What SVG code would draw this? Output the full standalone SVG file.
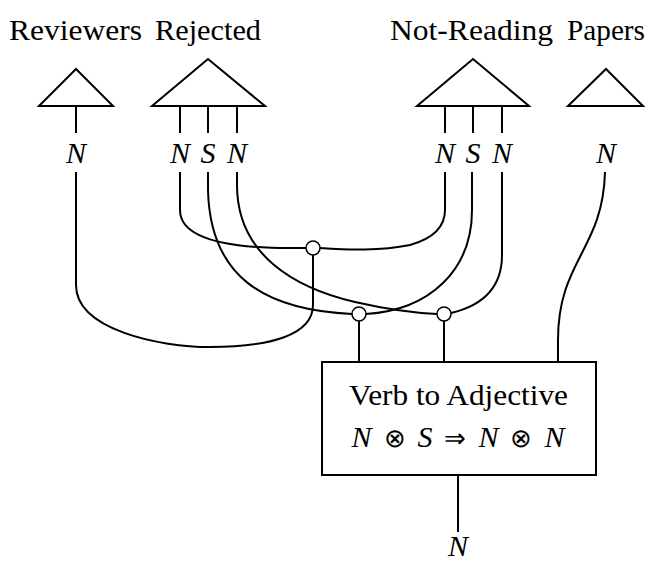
<svg xmlns="http://www.w3.org/2000/svg" width="651" height="561" viewBox="0 0 651 561">
<style>
.w{fill:none;stroke:#000;stroke-width:2;stroke-linecap:butt}
.tri{fill:#fff;stroke:#000;stroke-width:2;stroke-linejoin:miter}
.dot{fill:#fff;stroke:#000;stroke-width:1.5}
.t{font-family:"Liberation Serif","DejaVu Serif",serif;font-size:30px;fill:#000}
.m{font-family:"Liberation Serif","DejaVu Serif",serif;font-size:30px;font-style:italic;fill:#000;text-anchor:middle}
.op{font-style:normal;font-family:"DejaVu Sans",sans-serif;font-weight:200;font-size:26px}
</style>
<rect width="651" height="561" fill="#fff"/>
<g id="connectors">
<path class="w" d="M76,106 V133"/>
<path class="w" d="M180,106 V133 M208,106 V133 M237,106 V133"/>
<path class="w" d="M445,106 V133 M473,106 V133 M502,106 V133"/>
<path class="w" d="M76,172 V285 C76,330 160,347 210,347 C270,347 313,335 313,305 V255"/>
<path class="w" d="M180,172 V210 C180,238 225,248 290,248 H306"/>
<path class="w" d="M320,248 C350,250 380,251 410,245 C435,238 445,225 445,210 V172"/>
<path class="w" d="M208,172 V190 C210,275 262,310 352,314"/>
<path class="w" d="M237,172 V185 C237,255 295,288 355,302 C390,310 415,313 437,314"/>
<path class="w" d="M366,314 C430,310 472,270 472,210 V172"/>
<path class="w" d="M451,313 C485,305 502,285 502,255 V172"/>
<path class="w" d="M605,172 C603,250 558,260 558,340 V362"/>
<path class="w" d="M359,321 V362 M444,321 V362"/>
<path class="w" d="M458,475 V532"/>
</g>
<g id="reviewers">
<polygon class="tri" points="39,106 76,69 113,106"/>
<text class="t" x="9" y="40" textLength="133" lengthAdjust="spacingAndGlyphs">Reviewers</text>
<text class="m" x="76" y="163">N</text>
</g>
<g id="rejected">
<polygon class="tri" points="152,106 208,59 265,106"/>
<text class="t" x="155" y="40" textLength="106" lengthAdjust="spacingAndGlyphs">Rejected</text>
<text class="m" x="180" y="163">N</text>
<text class="m" x="208" y="163">S</text>
<text class="m" x="237" y="163">N</text>
</g>
<g id="not-reading">
<polygon class="tri" points="417,106 473,59 529,106"/>
<text class="t" x="390" y="40" textLength="163" lengthAdjust="spacingAndGlyphs">Not-Reading</text>
<text class="m" x="445" y="163">N</text>
<text class="m" x="473" y="163">S</text>
<text class="m" x="502" y="163">N</text>
</g>
<g id="papers">
<polygon class="tri" points="568,106 606,69 643,106"/>
<text class="t" x="567" y="40" textLength="78" lengthAdjust="spacingAndGlyphs">Papers</text>
<text class="m" x="606" y="163">N</text>
</g>
<g id="node1"><circle class="dot" cx="313" cy="248" r="7"/></g>
<g id="node2"><circle class="dot" cx="359" cy="314" r="7"/></g>
<g id="node3"><circle class="dot" cx="444" cy="314" r="7"/></g>
<g id="box">
<rect x="322" y="362" width="274" height="113" fill="#fff" stroke="#000" stroke-width="2"/>
<text class="t" x="349" y="405" textLength="219" lengthAdjust="spacingAndGlyphs">Verb to Adjective</text>
<text class="m" x="458" y="447" textLength="213" lengthAdjust="spacing">N <tspan class="op">⊗</tspan> S <tspan class="op">⇒</tspan> N <tspan class="op">⊗</tspan> N</text>
</g>
<g id="output">
<text class="m" x="458" y="556">N</text>
</g>
</svg>
